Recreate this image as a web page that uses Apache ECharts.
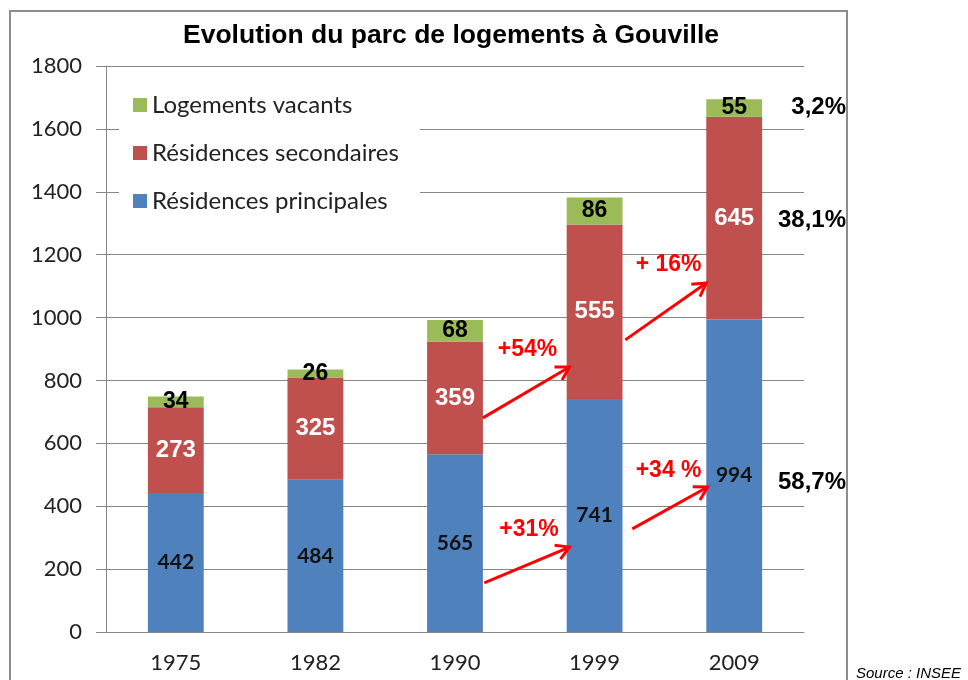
<!DOCTYPE html>
<html>
<head>
<meta charset="utf-8">
<script src="https://cdn.jsdelivr.net/npm/echarts@6/dist/echarts.min.js"></script>
<style>
  html, body { margin: 0; padding: 0; background: #fff; }
  #chart { width: 968px; height: 680px; }
</style>
</head>
<body>
<div id="chart"></div>
<script>
const years = ['1975', '1982', '1990', '1999', '2009'];
const principales = [442, 484, 565, 741, 994];
const secondaires = [273, 325, 359, 555, 645];
const vacants = [34, 26, 68, 86, 55];

// shares of 2009, written beside the last bar
const shareLabels = ['3,2%', '38,1%', '58,7%'];
const shareValues = [1669, 1310, 477];

// growth arrows: [fromCat, fromVal, toCat, toVal] in category units
const growthLabels = ['+54%', '+31%', '+ 16%', '+34 %'];
const growthArrows = [
  [2.20, 681, 2.82, 843],
  [2.21, 156, 2.82, 270],
  [3.22, 929, 3.80, 1110],
  [3.27, 328, 3.81, 461]
];
const growthText = [[2.52, 899], [2.53, 324], [3.53, 1167], [3.53, 512]];

const BLUE = '#4F81BD', RED = '#C0504D', GREEN = '#9BBB59';
const AXIS = '#868686';

const chart = echarts.init(document.getElementById('chart'));

chart.setOption({
  animation: false,
  title: {
    text: 'Evolution du parc de logements à Gouville',
    left: 183,
    top: 22,
    padding: 0,
    textStyle: { fontFamily: 'Liberation Sans', fontWeight: 'bold', fontSize: 26.5, color: '#000' }
  },
  legend: {
    data: ['Logements vacants', 'Résidences secondaires', 'Résidences principales'],
    orient: 'vertical',
    left: 133,
    top: 93,
    padding: 0,
    itemGap: 24,
    itemWidth: 14,
    itemHeight: 14,
    icon: 'rect',
    textStyle: { fontFamily: 'Lato', fontSize: 24, lineHeight: 24, color: '#222' }
  },
  grid: { left: 106, right: 164, top: 66, bottom: 48 },
  xAxis: {
    type: 'category',
    data: years,
    axisLine: { lineStyle: { color: AXIS } },
    axisTick: { length: 7, lineStyle: { color: AXIS } },
    axisLabel: { margin: 20, fontFamily: 'Lato', fontSize: 22, color: '#222' }
  },
  yAxis: {
    type: 'value',
    min: 0,
    max: 1800,
    interval: 200,
    axisLine: { show: true, lineStyle: { color: AXIS } },
    axisTick: { show: true, length: 10, lineStyle: { color: AXIS } },
    axisLabel: { margin: 24, fontFamily: 'Lato', fontSize: 22, color: '#222', formatter: v => String(v) },
    splitLine: { lineStyle: { color: AXIS, width: 1 } }
  },
  series: [
    {
      name: 'Résidences principales',
      type: 'bar',
      stack: 'total',
      data: principales,
      barWidth: '40%',
      itemStyle: { color: BLUE },
      label: { show: true, position: 'inside', fontFamily: 'Lato', fontWeight: 'bold', fontSize: 21, color: '#111' }
    },
    {
      name: 'Résidences secondaires',
      type: 'bar',
      stack: 'total',
      data: secondaires,
      itemStyle: { color: RED },
      label: { show: true, position: 'inside', fontFamily: 'Liberation Sans', fontWeight: 'bold', fontSize: 24, color: '#fff' }
    },
    {
      name: 'Logements vacants',
      type: 'bar',
      stack: 'total',
      data: vacants,
      itemStyle: { color: GREEN },
      label: { show: true, position: 'inside', fontFamily: 'Liberation Sans', fontWeight: 'bold', fontSize: 23, color: '#000' }
    }
  ]
});

// map a fractional category position and a value to pixels
function toPx(cat, val) {
  const i = Math.min(Math.floor(cat), years.length - 2);
  const a = chart.convertToPixel({ gridIndex: 0 }, [i, val]);
  const b = chart.convertToPixel({ gridIndex: 0 }, [i + 1, val]);
  return [a[0] + (b[0] - a[0]) * (cat - i), a[1]];
}

const graphics = [
  // outer frame
  { type: 'rect', shape: { x: 10, y: 11, width: 837, height: 700 }, style: { fill: null, stroke: '#8c8c8c', lineWidth: 2 }, z: 10, silent: true },
  // legend background hides the gridlines
  { type: 'rect', shape: { x: 119, y: 82, width: 301, height: 146 }, style: { fill: '#fff' }, z: 3 },
  {
    type: 'text', left: 856, top: 666,
    style: { text: 'Source : INSEE', fontFamily: 'Liberation Sans', fontStyle: 'italic', fontSize: 15, fill: '#000' }
  }
];

shareLabels.forEach((t, k) => {
  const p = toPx(4, shareValues[k]);
  graphics.push({
    type: 'text', x: 846, y: p[1],
    style: { text: t, fontFamily: 'Liberation Sans', fontWeight: 'bold', fontSize: 24, fill: '#000', align: 'right', verticalAlign: 'middle' },
    z: 20
  });
});

growthArrows.forEach((a, k) => {
  const p0 = toPx(a[0], a[1]);
  const p1 = toPx(a[2], a[3]);
  const ang = Math.atan2(p1[1] - p0[1], p1[0] - p0[0]);
  const L = 15, spread = Math.PI / 6;
  const w1 = [p1[0] - L * Math.cos(ang - spread), p1[1] - L * Math.sin(ang - spread)];
  const w2 = [p1[0] - L * Math.cos(ang + spread), p1[1] - L * Math.sin(ang + spread)];
  graphics.push({ type: 'line', shape: { x1: p0[0], y1: p0[1], x2: p1[0], y2: p1[1] }, style: { stroke: '#FF0000', lineWidth: 3 }, z: 20 });
  graphics.push({ type: 'polyline', shape: { points: [w1, p1, w2] }, style: { stroke: '#FF0000', lineWidth: 3, fill: null }, z: 20 });
  const tp = toPx(growthText[k][0], growthText[k][1]);
  graphics.push({
    type: 'text', x: tp[0], y: tp[1],
    style: { text: growthLabels[k], fontFamily: 'Liberation Sans', fontWeight: 'bold', fontSize: 23, fill: '#FF0000', align: 'center', verticalAlign: 'middle' },
    z: 20
  });
});

chart.setOption({ graphic: graphics });
</script>
</body>
</html>
